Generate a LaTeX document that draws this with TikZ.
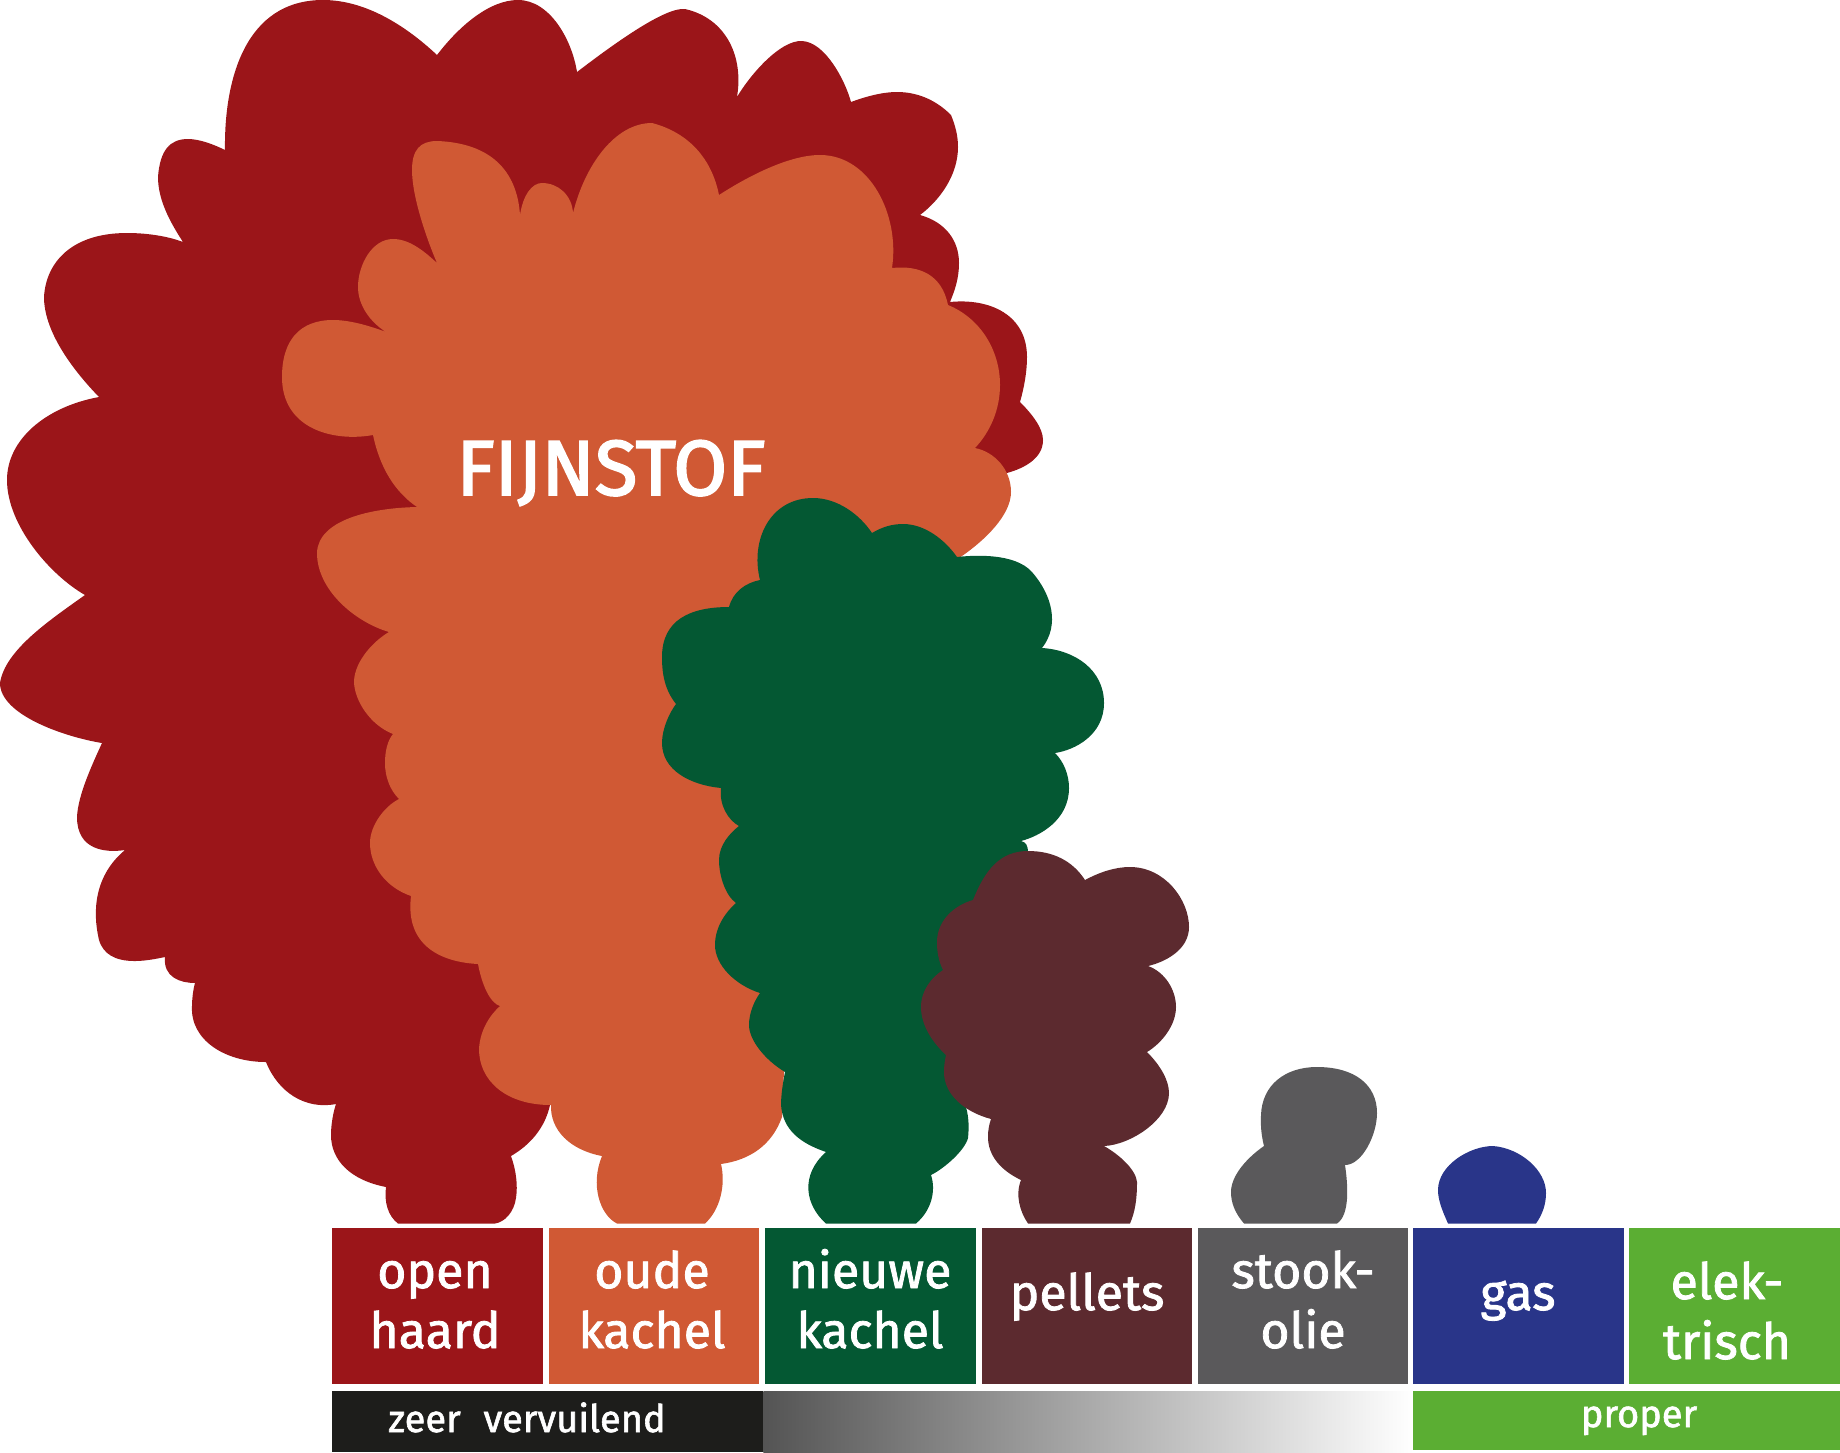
\documentclass[tikz,border=0pt]{standalone}
\usepackage{fontspec}
\setmainfont{Fira Sans}
\newfontfamily\heavyfont[FakeBold=1.6]{Fira Sans}
\newfontfamily\titlefont[FakeBold=2.4]{Fira Sans}
\definecolor{cRed}{HTML}{9B1519}
\definecolor{cOrange}{HTML}{D05934}
\definecolor{cGreen}{HTML}{045833}
\definecolor{cMaroon}{HTML}{5C2A2F}
\definecolor{cGrey}{HTML}{5A595B}
\definecolor{cBlue}{HTML}{293589}
\definecolor{cLime}{HTML}{5BAE33}
\definecolor{cBlack}{HTML}{1D1D1B}
\tikzset{
  fuelbox/.style={anchor=north west,inner sep=0pt,minimum height=78pt,text=white},
  boxlabel/.style={text=white,align=center,font=\heavyfont\fontsize{25}{30}\selectfont,inner sep=0pt},
  barlabel/.style={text=white,anchor=base,font=\heavyfont\fontsize{19}{22}\selectfont,inner sep=0pt}
}
\begin{document}
\begin{tikzpicture}[x=0.5pt,y=-0.5pt]
\useasboundingbox (0,0) rectangle (1840,1452);
\fill[cRed] (225,150) .. controls (224,80) and (245,0) .. (323,0)
 .. controls (365,0) and (405,25) .. (437,55)
 .. controls (460,25) and (490,0) .. (518,0)
 .. controls (550,0) and (572,40) .. (577,72)
 .. controls (615,43) and (665,7) .. (685,9)
 .. controls (725,18) and (744,55) .. (737,97)
 .. controls (750,75) and (780,40) .. (802,41)
 .. controls (825,42) and (845,80) .. (851,102)
 .. controls (870,95) and (885,92) .. (897,92)
 .. controls (920,92) and (938,102) .. (951,115)
 .. controls (955,125) and (958,135) .. (958,147)
 .. controls (958,175) and (940,200) .. (920,215)
 .. controls (945,222) and (959,240) .. (959,263)
 .. controls (959,278) and (955,290) .. (950,302)
 .. controls (990,298) and (1027,315) .. (1027,357)
 .. controls (1027,372) and (1024,388) .. (1020,402)
 .. controls (1032,414) and (1043,428) .. (1043,440)
 .. controls (1043,458) and (1025,468) .. (1007,473)
 -- (800,600) -- (550,1105)
 .. controls (545,1128) and (530,1145) .. (511,1156)
 .. controls (516,1170) and (518,1185) .. (516,1198)
 .. controls (514,1212) and (505,1222) .. (495,1223.5)
 -- (398,1223.5)
 .. controls (388,1216) and (384,1202) .. (386,1187)
 .. controls (350,1180) and (331,1160) .. (331,1135)
 .. controls (331,1125) and (333,1113) .. (336,1104)
 .. controls (305,1110) and (278,1092) .. (266,1062)
 .. controls (225,1062) and (190,1040) .. (192,1006)
 .. controls (192,1000) and (193,990) .. (195,983)
 .. controls (180,983) and (163,977) .. (165,957)
 .. controls (150,960) and (108,970) .. (99,940)
 .. controls (92,910) and (95,875) .. (125,850)
 .. controls (105,853) and (77,850) .. (77,817)
 .. controls (78,795) and (92,765) .. (102,743)
 .. controls (65,737) and (0,715) .. (0,683)
 .. controls (5,650) and (50,620) .. (85,595)
 .. controls (50,575) and (7,525) .. (7,480)
 .. controls (7,440) and (45,407) .. (99,397)
 .. controls (70,367) and (44,330) .. (44,297)
 .. controls (46,262) and (72,233) .. (127,233)
 .. controls (150,233) and (170,237) .. (183,242)
 .. controls (170,222) and (158,200) .. (158,177)
 .. controls (160,150) and (170,139) .. (188,139)
 .. controls (200,139) and (215,145) .. (225,150) -- cycle;
\fill[cOrange] (573,213) .. controls (585,165) and (615,123) .. (652,123)
 .. controls (690,133) and (712,160) .. (719,195)
 .. controls (750,175) and (790,155) .. (820,155)
 .. controls (870,155) and (900,215) .. (892,268)
 .. controls (920,265) and (942,275) .. (948,305)
 .. controls (980,318) and (1000,350) .. (1000,385)
 .. controls (1000,410) and (990,432) .. (975,448)
 .. controls (995,452) and (1011,470) .. (1011,492)
 .. controls (1011,515) and (985,540) .. (962,556)
 -- (800,700) -- (782,1117)
 .. controls (772,1145) and (750,1160) .. (721,1164)
 .. controls (726,1185) and (720,1210) .. (705,1223.5)
 -- (617,1223.5)
 .. controls (600,1215) and (590,1185) .. (602,1156)
 .. controls (570,1150) and (550,1130) .. (551,1105)
 .. controls (505,1105) and (479,1080) .. (479,1049)
 .. controls (480,1030) and (490,1015) .. (500,1006)
 .. controls (490,1003) and (482,985) .. (478,964)
 .. controls (440,962) and (405,945) .. (411,896)
 .. controls (385,887) and (370,865) .. (370,843)
 .. controls (370,825) and (385,806) .. (399,799)
 .. controls (390,790) and (385,777) .. (385,763)
 .. controls (385,750) and (388,740) .. (393,734)
 .. controls (370,725) and (354,700) .. (354,681)
 .. controls (355,660) and (375,640) .. (389,632)
 .. controls (355,622) and (317,590) .. (317,553)
 .. controls (318,520) and (370,508) .. (417,507)
 .. controls (395,492) and (380,468) .. (373,435)
 .. controls (335,442) and (282,430) .. (282,377)
 .. controls (282,340) and (300,320) .. (333,320)
 .. controls (350,320) and (370,326) .. (386,332)
 .. controls (370,322) and (358,305) .. (358,287)
 .. controls (358,265) and (372,239) .. (393,239)
 .. controls (410,239) and (425,252) .. (437,263)
 .. controls (425,235) and (412,195) .. (412,170)
 .. controls (412,150) and (420,141) .. (437,141)
 .. controls (490,143) and (517,170) .. (520,215)
 .. controls (523,195) and (532,183) .. (542,183)
 .. controls (558,183) and (572,195) .. (573,213) -- cycle;
\fill[cGreen] (760,580) .. controls (750,540) and (770,498) .. (813,498)
 .. controls (838,498) and (860,515) .. (872,533)
 .. controls (882,527) and (892,524) .. (903,524)
 .. controls (925,524) and (945,540) .. (957,557)
 .. controls (975,555) and (1015,553) .. (1032,572)
 .. controls (1052,595) and (1060,625) .. (1042,648)
 .. controls (1075,650) and (1104,670) .. (1104,703)
 .. controls (1104,735) and (1075,750) .. (1055,753)
 .. controls (1064,762) and (1069,775) .. (1069,788)
 .. controls (1069,820) and (1040,836) .. (1021,841)
 .. controls (1026,842) and (1028,846) .. (1028,852)
 -- (1000,1000) -- (966,1107)
 .. controls (969,1118) and (969,1128) .. (968,1138)
 .. controls (965,1150) and (945,1168) .. (931,1175)
 .. controls (936,1190) and (932,1210) .. (916,1223.5)
 -- (826,1223.5)
 .. controls (805,1205) and (800,1175) .. (826,1152)
 .. controls (800,1143) and (783,1130) .. (781,1105)
 .. controls (781,1095) and (783,1082) .. (785,1072)
 .. controls (765,1060) and (749,1040) .. (749,1025)
 .. controls (749,1012) and (755,1000) .. (760,993)
 .. controls (735,985) and (715,965) .. (715,945)
 .. controls (715,925) and (728,910) .. (736,903)
 .. controls (725,895) and (719,875) .. (719,860)
 .. controls (719,845) and (730,833) .. (739,826)
 .. controls (728,820) and (719,805) .. (721,788)
 .. controls (690,785) and (662,770) .. (662,743)
 .. controls (662,728) and (670,712) .. (676,704)
 .. controls (665,690) and (662,675) .. (662,657)
 .. controls (662,620) and (690,607) .. (729,607)
 .. controls (733,592) and (745,583) .. (760,580) -- cycle;
\fill[cMaroon] (973,900) .. controls (985,870) and (1000,851) .. (1028,851)
 .. controls (1052,851) and (1072,860) .. (1085,880)
 .. controls (1100,872) and (1115,867) .. (1130,867)
 .. controls (1165,867) and (1189,900) .. (1189,927)
 .. controls (1189,950) and (1165,962) .. (1148,966)
 .. controls (1165,972) and (1176,990) .. (1176,1007)
 .. controls (1176,1025) and (1162,1043) .. (1147,1052)
 .. controls (1160,1065) and (1169,1080) .. (1169,1093)
 .. controls (1169,1120) and (1130,1145) .. (1104,1146)
 .. controls (1120,1155) and (1136,1170) .. (1137,1182)
 .. controls (1137,1200) and (1135,1212) .. (1130,1223.5)
 -- (1028,1223.5)
 .. controls (1020,1212) and (1015,1195) .. (1021,1180)
 .. controls (1000,1170) and (988,1155) .. (988,1137)
 .. controls (988,1130) and (989,1125) .. (991,1119)
 .. controls (965,1112) and (944,1095) .. (944,1072)
 .. controls (944,1065) and (945,1060) .. (946,1055)
 .. controls (932,1042) and (921,1025) .. (921,1007)
 .. controls (921,990) and (932,977) .. (943,970)
 .. controls (938,960) and (937,950) .. (937,942)
 .. controls (937,920) and (955,905) .. (973,900) -- cycle;
\fill[cGrey] (1244,1223.5) .. controls (1235,1213) and (1231,1203) .. (1231,1192)
 .. controls (1231,1175) and (1248,1157) .. (1264,1146)
 .. controls (1260,1130) and (1261,1120) .. (1261,1115)
 .. controls (1262,1085) and (1285,1067) .. (1317,1067)
 .. controls (1355,1067) and (1377,1085) .. (1377,1113)
 .. controls (1377,1135) and (1362,1165) .. (1345,1165)
 .. controls (1348,1185) and (1350,1215) .. (1337,1223.5) -- cycle;
\fill[cBlue] (1448,1223.5) .. controls (1442,1210) and (1438,1200) .. (1438,1190)
 .. controls (1438,1165) and (1470,1146) .. (1493,1146)
 .. controls (1520,1148) and (1546,1170) .. (1546,1193)
 .. controls (1546,1205) and (1542,1215) .. (1536,1223.5) -- cycle;
% boxes
\node[fuelbox,fill=cRed,minimum width=105.5pt] (b1) at (332,1228) {};
\node[fuelbox,fill=cOrange,minimum width=105pt] (b2) at (549,1228) {};
\node[fuelbox,fill=cGreen,minimum width=105.5pt] (b3) at (765,1228) {};
\node[fuelbox,fill=cMaroon,minimum width=105pt] (b4) at (982,1228) {};
\node[fuelbox,fill=cGrey,minimum width=105pt] (b5) at (1198,1228) {};
\node[fuelbox,fill=cBlue,minimum width=105.5pt] (b6) at (1413,1228) {};
\node[fuelbox,fill=cLime,minimum width=105.5pt] (b7) at (1629,1228) {};
\node[boxlabel] (l1) at (435,1306) {\strut open\\\strut haard};
\node[boxlabel] (l2) at (652,1306) {\strut oude\\\strut kachel};
\node[boxlabel] (l3) at (870,1306) {\strut nieuwe\\\strut kachel};
\node[boxlabel] (l4) at (1087,1298) {\strut pellets};
\node[boxlabel] (l5) at (1303,1306) {\strut stook-\\\strut olie};
\node[boxlabel] (l6) at (1518,1298) {\strut gas};
\node[boxlabel] (l7) at (1727,1317) {\strut elek-\\\strut trisch};
% bars
\node[anchor=north west,inner sep=0pt,minimum width=215.5pt,minimum height=30.5pt,fill=cBlack] (zb) at (332,1391) {};
\node[anchor=north west,inner sep=0pt,minimum width=325pt,minimum height=30.5pt,left color=black!67,right color=white] (gb) at (763,1391) {};
\node[anchor=north west,inner sep=0pt,minimum width=213.5pt,minimum height=29.5pt,fill=cLime] (pb) at (1413,1391) {};
\node[barlabel] (zl) at (527,1432) {zeer\hspace{0.6em}vervuilend};
\node[barlabel] (pl) at (1639,1427) {proper};
\node[text=white,anchor=base,inner sep=0pt,font=\titlefont\fontsize{39}{40}\selectfont] (title) at (611,495) {FIJNSTOF};
\end{tikzpicture}
\end{document}
